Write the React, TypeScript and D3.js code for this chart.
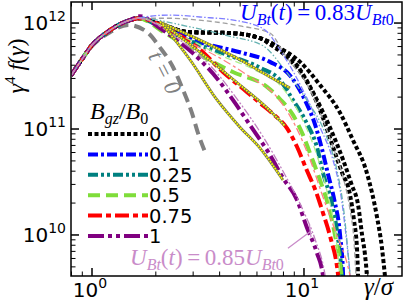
import React, { useEffect, useRef } from "react";
import * as d3 from "d3";

type Pt = [number, number];

// shared low-energy part (gamma, gamma^4 f)
const rise: Pt[] = [
  [0.796, 3.2e11], [0.9, 4.6e11], [1.0, 6.2e11], [1.1, 7.4e11],
  [1.22, 8.6e11], [1.36, 9.8e11], [1.5, 1.06e12], [1.65, 1.11e12],
];

// t = 0 spectrum
const initialSpec: Pt[] = [
  [0.796, 3.2e11], [1.01, 6.2e11], [1.216, 8.2e11], [1.48, 9.6e11], [1.82, 8.2e11],
  [2.09, 5.9e11], [2.41, 3.85e11], [2.69, 2.33e11], [2.96, 1.42e11], [3.16, 9.2e10], [3.41, 6.1e10],
];

// U_Bt = 0.83 U_Bt0, thick curves (tails after the peak)
const black0a: Pt[] = [
  [2.09, 9.8e11], [2.9, 8.2e11], [4.48, 8.05e11], [6.2, 7.2e11], [7.7, 5.8e11], [9.58, 4.3e11],
  [11.9, 2.6e11], [14.8, 1.42e11], [17.0, 7.9e10], [19.8, 3.85e10], [22.1, 1.48e10],
  [23.3, 7.7e9], [24.1, 4.1e9], [24.6, 2.7e9],
];
const black0b: Pt[] = [
  [2.09, 9.8e11], [2.9, 8.2e11], [4.48, 8.05e11], [6.2, 7.2e11], [6.91, 6.3e11], [8.59, 4.5e11],
  [10.7, 2.44e11], [12.3, 1.27e11], [13.7, 6.8e10], [15.1, 3.9e10], [16.5, 2.38e10],
  [17.2, 1.39e10], [17.8, 7.2e9], [18.0, 4.1e9], [18.2, 2.7e9],
];
const black0c: Pt[] = [
  [2.09, 9.8e11], [2.9, 8.2e11], [4.48, 8.05e11], [6.2, 7.2e11], [7.3, 6.2e11], [9.27, 4.0e11],
  [11.4, 1.96e11], [13.3, 1.02e11], [15.3, 5.1e10], [16.8, 2.97e10], [18.0, 1.92e10],
  [18.8, 1.0e10], [19.4, 6.5e9], [19.8, 4.1e9], [20.0, 2.7e9],
];
const blue01: Pt[] = [
  [2.33, 8.6e11], [3.23, 6.6e11], [4.99, 5.3e11], [6.91, 4.3e11], [8.59, 3.2e11], [10.1, 1.88e11],
  [11.3, 1.09e11], [12.2, 6.3e10], [13.0, 3.7e10], [13.9, 2.14e10], [14.8, 1.0e10],
  [15.3, 4.1e9], [15.4, 2.7e9],
];
const teal025: Pt[] = [
  [2.33, 8.2e11], [3.23, 6.2e11], [4.48, 4.9e11], [6.2, 3.8e11], [7.7, 2.9e11], [8.87, 1.88e11],
  [10.3, 1.14e11], [11.5, 6.8e10], [12.3, 3.85e10], [13.6, 1.92e10], [14.5, 9.0e9],
  [15.1, 4.1e9], [15.3, 2.7e9],
];
const green05: Pt[] = [
  [2.21, 8.05e11], [3.23, 5.0e11], [4.62, 3.45e11], [6.69, 2.5e11], [7.7, 1.92e11], [8.87, 1.36e11],
  [9.89, 8.8e10], [10.9, 5.3e10], [11.9, 3.3e10], [13.0, 1.92e10], [14.0, 1.0e10],
  [15.0, 4.1e9], [15.1, 2.7e9],
];
const red075: Pt[] = [
  [2.33, 8.6e11], [3.23, 5.6e11], [4.15, 3.45e11], [5.39, 2.23e11], [6.2, 1.76e11], [7.14, 1.39e11],
  [8.31, 1.02e11], [9.27, 6.8e10], [10.3, 4.1e10], [11.4, 2.55e10], [12.3, 1.61e10],
  [13.3, 9.6e9], [14.5, 4.1e9], [14.8, 2.7e9],
];
const purple1: Pt[] = [
  [1.68, 1.16e12], [2.09, 8.97e11], [2.52, 6.9e11], [3.23, 4.5e11], [3.89, 3.0e11], [4.62, 1.88e11],
  [5.56, 1.09e11], [6.91, 5.7e10], [7.96, 3.45e10], [9.27, 2.14e10], [10.3, 1.19e10],
  [11.5, 6.8e9], [12.3, 4.1e9], [12.6, 2.7e9],
];

// U_Bt = 0.85 U_Bt0, thin curves
const thin0: Pt[] = [
  [2.33, 1.11e12], [3.13, 1.07e12], [4.99, 9.4e11], [6.91, 8.05e11], [8.13, 5.0e11], [10.7, 2.33e11],
  [12.3, 1.22e11], [13.7, 6.8e10], [15.3, 3.5e10], [16.5, 1.72e10], [17.2, 9.0e9], [17.6, 4.1e9], [17.8, 3e9],
];
const thin01: Pt[] = [
  [2.33, 1.19e12], [3.23, 1.14e12], [4.99, 1.04e12], [6.55, 8.6e11], [7.7, 5.6e11], [9.89, 2.33e11],
  [11.9, 1.04e11], [13.7, 5.1e10], [14.8, 2.66e10], [16.0, 7.7e9], [16.5, 4.1e9], [16.7, 2.7e9],
];
const thin025: Pt[] = [
  [2.9, 9.2e11], [4.48, 7.5e11], [6.41, 6.1e11], [8.13, 3.6e11], [10.3, 1.88e11], [12.8, 8.4e10],
  [14.3, 4.1e10], [15.4, 1.72e10], [16.1, 7.2e9], [16.5, 4.1e9], [16.7, 3e9],
];
const thin05: Pt[] = [
  [2.6, 7.7e11], [4.01, 5.0e11], [5.87, 3.6e11], [7.7, 2.6e11], [9.58, 1.36e11], [11.3, 6.3e10],
  [12.8, 2.66e10], [14.0, 1.11e10], [14.8, 4.1e9], [15.0, 3e9],
];
const thin075: Pt[] = [
  [2.6, 7.2e11], [4.15, 4.5e11], [5.56, 3.1e11], [7.46, 2.0e11], [9.07, 1.09e11], [10.7, 5.1e10],
  [12.2, 2.38e10], [14.0, 1.11e10], [16.5, 4.1e9], [17.0, 3e9],
];
const thin1: Pt[] = [
  [2.6, 6.9e11], [3.6, 4.0e11], [4.99, 1.76e11], [6.55, 7.9e10], [8.13, 3.7e10], [9.89, 1.72e10],
  [11.3, 9.0e9], [12.6, 4.1e9], [12.9, 3e9],
];

// dotted reference fits
const fitA: Pt[] = [[2.09, 1.02e12], [3.23, 6.9e11], [4.99, 4.5e11], [6.91, 3.1e11], [8.59, 2.44e11]];
const fitB: Pt[] = [[2.16, 9.8e11], [3.23, 5.3e11], [4.99, 2.6e11], [6.55, 1.65e11], [8.13, 1.07e11]];
const fitC: Pt[] = [[2.16, 9.6e11], [2.9, 4.5e11], [3.89, 1.88e11], [4.99, 1.04e11], [6.2, 6.6e10], [7.96, 3.3e10]];

const legendLabels = ["0", "0.1", "0.25", "0.5", "0.75", "1"];
const xMajor = [1, 10];
const yMajor = [1e10, 1e11, 1e12];

const W = 407;
const H = 305;

export default function App() {
  const ref = useRef<SVGSVGElement | null>(null);

  useEffect(() => {
    const svg = d3.select(ref.current);
    svg.selectAll("*").remove();
    const margin = { top: 2, right: 5, bottom: 29, left: 71 };
    const x0 = margin.left, x1 = W - margin.right, y0 = margin.top, y1 = H - margin.bottom;

    const x = d3.scaleLog().domain([0.796, 29.0]).range([x0, x1]);
    const y = d3.scaleLog().domain([4.1e9, 1.58e12]).range([y1, y0]);

    svg.append("defs").append("clipPath").attr("id", "plotclip")
      .append("rect").attr("x", x0).attr("y", y0).attr("width", x1 - x0).attr("height", y1 - y0);

    const line = d3.line<Pt>().x((d) => x(d[0])).y((d) => y(d[1])).curve(d3.curveMonotoneX);
    const plot = svg.append("g").attr("clip-path", "url(#plotclip)");

    const draw = (pts: Pt[], color: string, width: number, dash: string) =>
      plot.append("path").datum(pts).attr("d", line).attr("fill", "none")
        .attr("stroke", color).attr("stroke-width", width).attr("stroke-dasharray", dash);

    // t = 0
    draw(initialSpec, "#808080", 4, "11,6");

    const thick = [
      { pts: black0a, color: "#000000", dash: "4,2.5" },
      { pts: black0b, color: "#000000", dash: "4,2.5" },
      { pts: black0c, color: "#000000", dash: "4,2.5" },
      { pts: blue01, color: "#0000ff", dash: "10,3,3,3" },
      { pts: teal025, color: "#008080", dash: "10,3,3,3,3,3" },
      { pts: green05, color: "#7fdd3a", dash: "12,6" },
      { pts: red075, color: "#ff0000", dash: "14,4,5,4" },
      { pts: purple1, color: "#800080", dash: "16,4,4,4,4,4" },
    ];
    const thin = [
      { pts: thin0, color: "#a0a0a0", dash: "5,3" },
      { pts: thin01, color: "#7f7fff", dash: "6,2,1.5,2" },
      { pts: thin025, color: "#66b2b2", dash: "6,2,1.5,2,1.5,2" },
      { pts: thin05, color: "#b0f08a", dash: "7,4" },
      { pts: thin075, color: "#ff8080", dash: "8,3,3,3" },
      { pts: thin1, color: "#c080c0", dash: "8,2,2,2,2,2" },
    ];

    thick.forEach((s) => {
      const pts = s.pts === purple1 ? rise.slice(0, -1).concat(s.pts) : rise.concat(s.pts);
      draw(pts, s.color, 4, s.dash);
    });
    thin.forEach((s) => draw(rise.concat(s.pts), s.color, 1.3, s.dash));

    [fitA, fitB, fitC].forEach((f) => {
      draw(f, "#77774a", 2.8, "none");
      draw(f, "#ffff00", 1.8, "1.5,1.3");
    });

    // frame
    svg.append("rect").attr("x", x0).attr("y", y0).attr("width", x1 - x0).attr("height", y1 - y0)
      .attr("fill", "none").attr("stroke", "#000").attr("stroke-width", 1.5);

    // ticks, inward on all sides
    const xMinor: number[] = [];
    [0.1, 1, 10].forEach((d) => d3.range(2, 10).forEach((k) => {
      const v = d * k;
      if (v > 0.796 && v < 29) xMinor.push(v);
    }));
    const yMinor: number[] = [];
    [1e9, 1e10, 1e11, 1e12].forEach((d) => d3.range(2, 10).forEach((k) => {
      const v = d * k;
      if (v > 4.1e9 && v < 1.58e12) yMinor.push(v);
    }));
    const ticks = svg.append("g").attr("stroke", "#000");
    const xt = (vals: number[], len: number, w: number) => vals.forEach((v) => {
      ticks.append("line").attr("x1", x(v)).attr("x2", x(v)).attr("y1", y1).attr("y2", y1 - len).attr("stroke-width", w);
      ticks.append("line").attr("x1", x(v)).attr("x2", x(v)).attr("y1", y0).attr("y2", y0 + len).attr("stroke-width", w);
    });
    const yt = (vals: number[], len: number, w: number) => vals.forEach((v) => {
      ticks.append("line").attr("x1", x0).attr("x2", x0 + len).attr("y1", y(v)).attr("y2", y(v)).attr("stroke-width", w);
      ticks.append("line").attr("x1", x1).attr("x2", x1 - len).attr("y1", y(v)).attr("y2", y(v)).attr("stroke-width", w);
    });
    xt(xMinor, 4.5, 1);
    yt(yMinor, 4.5, 1);
    xt(xMajor, 8, 1.5);
    yt(yMajor, 8, 1.5);

    const sans = "DejaVu Sans, sans-serif";
    const serif = "Liberation Serif, DejaVu Serif, serif";

    // tick labels
    xMajor.forEach((v) => {
      const t = svg.append("text").attr("x", x(v) - 2).attr("y", 297).attr("text-anchor", "middle")
        .attr("font-family", sans).attr("font-size", 20);
      t.append("tspan").text("10");
      t.append("tspan").attr("dy", -9).attr("font-size", 14).text(String(Math.round(Math.log10(v))));
    });
    yMajor.forEach((v) => {
      const t = svg.append("text").attr("x", 66).attr("y", y(v) + 7).attr("text-anchor", "end")
        .attr("font-family", sans).attr("font-size", 20);
      t.append("tspan").text("10");
      t.append("tspan").attr("dy", -9).attr("font-size", 14).text(String(Math.round(Math.log10(v))));
    });

    // axis labels
    const yl = svg.append("text").attr("transform", "translate(24,66) rotate(-90)")
      .attr("text-anchor", "middle").attr("font-family", serif).attr("font-size", 24).attr("font-style", "italic");
    yl.append("tspan").text("γ");
    yl.append("tspan").attr("dy", -9).attr("font-size", 15).attr("font-style", "normal").text("4");
    yl.append("tspan").attr("dy", 9).text(" f");
    yl.append("tspan").attr("font-style", "normal").text("(");
    yl.append("tspan").text("γ");
    yl.append("tspan").attr("font-style", "normal").text(")");

    const xl = svg.append("text").attr("x", 364).attr("y", 295).attr("font-family", serif)
      .attr("font-size", 25).attr("font-style", "italic");
    xl.append("tspan").text("γ");
    xl.append("tspan").attr("font-style", "normal").text("/");
    xl.append("tspan").text("σ");

    // U_Bt annotations
    const uLabel = (px: number, py: number, color: string, val: string) => {
      const t = svg.append("text").attr("x", px).attr("y", py).attr("fill", color)
        .attr("font-family", serif).attr("font-size", 23).attr("font-style", "italic");
      t.append("tspan").text("U");
      t.append("tspan").attr("dy", 5).attr("font-size", 16).text("Bt");
      t.append("tspan").attr("dy", -5).attr("font-style", "normal").text("(");
      t.append("tspan").text("t");
      t.append("tspan").attr("font-style", "normal").text(")\u2009=\u2009" + val);
      t.append("tspan").text("U");
      t.append("tspan").attr("dy", 5).attr("font-size", 16).text("Bt");
      t.append("tspan").attr("font-size", 16).attr("font-style", "normal").text("0");
    };
    uLabel(240, 20, "#0000ff", "0.83");
    uLabel(130, 265, "#c98cc9", "0.85");
    svg.append("path").attr("fill", "none").attr("stroke", "#c98cc9").attr("stroke-width", 1.3)
      .attr("d", `M${x(8.4)},${y(7.5e9)} L${x(10.8)},${y(1.09e10)} M${x(10.6)},${y(1.25e10)} L${x(10.8)},${y(9.5e9)}`);

    // t = 0 label
    svg.append("text").attr("transform", `translate(${x(2.2)},${y(3.4e11)}) rotate(63)`)
      .attr("text-anchor", "middle").attr("dominant-baseline", "central").attr("fill", "#808080")
      .attr("font-family", serif).attr("font-size", 23).attr("font-style", "italic")
      .text("t = 0");

    // legend
    const lt = svg.append("text").attr("x", 90).attr("y", 119).attr("font-family", serif)
      .attr("font-size", 24).attr("font-style", "italic");
    lt.append("tspan").text("B");
    lt.append("tspan").attr("dy", 5).attr("font-size", 16).text("gz");
    lt.append("tspan").attr("dy", -5).attr("font-style", "normal").text("/");
    lt.append("tspan").text("B");
    lt.append("tspan").attr("dy", 5).attr("font-size", 16).attr("font-style", "normal").text("0");

    const legendStyles = thick.filter((_, i) => i >= 2);
    legendLabels.forEach((lab, i) => {
      const ly = 134 + i * 20.4;
      const s = legendStyles[i];
      svg.append("line").attr("x1", 88).attr("x2", 148).attr("y1", ly).attr("y2", ly)
        .attr("stroke", s.color).attr("stroke-width", 4).attr("stroke-dasharray", s.dash);
      svg.append("text").attr("x", 149).attr("y", ly + 7).attr("font-family", sans)
        .attr("font-size", 19.5).text(lab);
    });
  }, []);

  return (
    <svg
      ref={ref}
      width={W}
      height={H}
      style={{ position: "absolute", left: 0, top: 0, background: "#fff" }}
    />
  );
}
